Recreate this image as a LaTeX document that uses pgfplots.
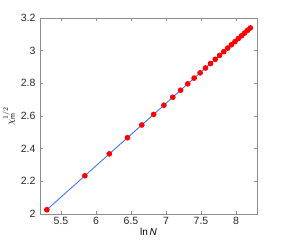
\documentclass[border=0pt]{standalone}
\usepackage{fontspec}
\setmainfont{Liberation Sans}
\usepackage{pgfplots}
\pgfplotsset{compat=1.18}
\definecolor{lineblue}{rgb}{0.2,0.4,1}
\definecolor{axgray}{rgb}{0.55,0.55,0.55}
\begin{document}
\begin{tikzpicture}
\begin{axis}[
  name=ax,
  scale only axis,
  width=217pt, height=196pt,
  xmin=5.2, xmax=8.3,
  ymin=2, ymax=3.2,
  xtick={5.5,6,6.5,7,7.5,8},
  ytick={2,2.2,2.4,2.6,2.8,3,3.2},
  yticklabels={2,2.2,2.4,2.6,2.8,3,3.2},
  xticklabels={5.5,6,6.5,7,7.5,8},
  tick align=inside,
  major tick length=3pt,
  axis line style={axgray},
  every tick/.style={axgray},
  tick label style={font=\fontsize{10.5}{12}\selectfont, text=black!85},
  yticklabel style={xshift=-1pt},
  /pgf/number format/assume math mode=true,
  xlabel={ln\,\textit{N}},
  ylabel={$\chi_{\mathrm{m}}^{1/2}$},
  label style={font=\fontsize{10}{12}\selectfont},
  xlabel style={yshift=4pt},
  ylabel style={yshift=-1pt},
]
\addplot[lineblue, line width=0.8pt, mark=*, mark size=2.4pt,
  mark options={draw=red, fill=red}] coordinates {
(5.298,2.026)
(5.841,2.234)
(6.190,2.368)
(6.449,2.467)
(6.654,2.545)
(6.824,2.610)
(6.970,2.666)
(7.097,2.715)
(7.209,2.758)
(7.311,2.797)
(7.402,2.832)
(7.487,2.864)
(7.564,2.894)
(7.636,2.921)
(7.703,2.947)
(7.766,2.971)
(7.826,2.994)
(7.882,3.016)
(7.934,3.036)
(7.985,3.055)
(8.033,3.074)
(8.078,3.091)
(8.122,3.108)
(8.164,3.124)
(8.204,3.139)
};
\end{axis}
\pgfresetboundingbox
\path[use as bounding box] ([xshift=-40pt,yshift=-27pt]ax.south west) rectangle ([xshift=27pt,yshift=18pt]ax.north east);
\end{tikzpicture}
\end{document}
